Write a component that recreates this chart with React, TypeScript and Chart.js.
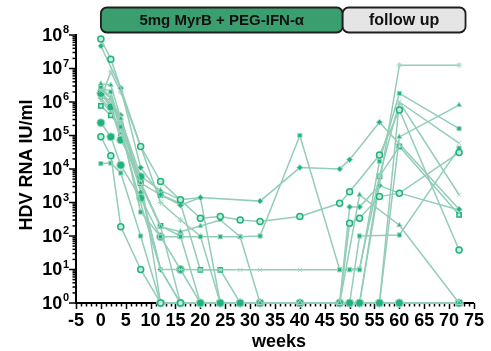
import { useEffect, useRef } from 'react';
import { Chart, registerables } from 'chart.js';

Chart.register(...registerables);

// ---- data ----
const WEEKS = [0, 2, 4, 8, 12, 16, 20, 24, 28, 32, 40, 48, 50, 52, 56, 60, 72];

const P01 = [7.6e7, 1.9e7, null, 4.7e4, 4200, 1200, 340, 380, 300, 270, 380, 950, 2100, null, 2.6e4, 5.8e5, 38];
const P02 = [4.7e7, null, 2.6e6, 1.1e4, 1700, 830, 1400, null, null, 1100, 1.1e4, 1.0e4, 1.9e4, null, 2.5e5, null, 630];
const P03 = [3.5e6, 3.2e6, 3.2e5, 3800, 190, 135, 200, 300, 95, 1, 1, 1, null, 1700, null, 210, 1];
const P04 = [2.8e6, 2.0e6, 1.8e5, 520, 95, 95, 95, 95, 95, 100, 1.0e5, 9.8, 9.8, 9.8, 1.7e4, 1.8e6, 1.6e5];
const P05 = [2.2e6, 1.3e6, 1.45e5, 950, 10, 10, 9.8, 9.8, 9.8, 9.8, 9.8, 9.8, 9.8, 11, 6200, 1.0e6, 1700];
const P06 = [2.4e5, 9.1e4, 1.3e4, 1350, 95, 10, 1, 1, 1, 1, 1, 1, 1, 1, 1, 1, 1];
const P07 = [9.1e4, 2.5e4, 190, 10, 1, 1, 1, 1, 1, 1, 1, 1, 240, 340, 1500, 1900, 3.1e4];
const P08 = [1.45e4, 1.5e4, 7600, 100, 1, 1, 1, 1, 1, 1, 1, 1, 1, 100, null, 107, 4.2e4];
const P09 = [1.8e6, 7.1e5, 7.4e4, 5900, 1, 1, 1, 1, 1, 1, 1, 1, 1, 1, 1, 1, 1];
const P10 = [7.6e5, 4.0e5, 1.8e5, 3800, 1700, 950, 9.8, 9.8, 1, 1, 1, 1, 1, 1, 1, 1, 1];
const P11 = [1.3e6, 7.9e6, 2.0e6, 4.7e4, 1000, 300, 100, 1, 1, 1, 1, 1, 1, 1, null, 1.26e7, 1.26e7];
const P12 = [3.0e6, 1.3e6, 3.2e5, 6000, 2300, 1200, 1400, 1, 1, 1, 1, 1, 1, 1, 1, 9.1e4, 8.1e5];
const P13 = [1.8e6, 1.0e6, 2.5e5, 3500, 190, 1, 1, 1, 1, 1, 1, 1, 1, 1, 1, 1, 1];
const P14 = [1.3e6, 6.0e5, 4.0e5, 2000, 10, 1, 1, 1, 1, 1, 1, 1, 740, 740, 3200, 1900, 600];
const P15 = [2.0e6, 8.0e5, 1.0e5, 4000, 200, 100, 1, 1, 1, 1, 1, 1, 1, 1, 6000, 4.7e4, 430];
const P16 = [1.1e6, 5.0e5, 1.3e5, 2500, 10, 1, 1, 1, 1, 1, 1, 1, 1, 1, 1, 1.0e6, 5.9e4];

const PATIENTS = [P01, P02, P03, P04, P05, P06, P07, P08, P09, P10, P11, P12, P13, P14, P15, P16];
const MARKERS = ['circle', 'rectRot', 'triangle', 'rect', 'crossRot', 'circle', 'circle', 'rect',
  'circle', 'rect', 'star', 'triangle', 'cross', 'rectRot', 'rect', 'crossRot'];
const OPEN_MARKER = [true, false, false, false, false, false, true, false, false, true, false, false, false, false, true, false];
const BIG_MARKER = [false, false, false, false, false, true, false, false, true, false, false, false, false, false, false, false];

const Y_DECADES = [0, 1, 2, 3, 4, 5, 6, 7, 8];
const PHASES = [
  { label: '5mg MyrB + PEG-IFN-α', from: 0, to: 48.6, fill: '#3b9e6f', font: 'bold 15px "Liberation Sans", Arial, sans-serif' },
  { label: 'follow up', from: 48.6, to: 73.3, fill: '#e5e5e5', font: 'bold 16px "Liberation Sans", Arial, sans-serif' },
];
const Y_TITLE = 'HDV RNA IU/ml';
const X_TITLE = 'weeks';

const FONT = '"Liberation Sans", Arial, sans-serif';
const LINE_COLOR = '#93cdb8';
const MARK_COLOR = '#1fb47a';
const MARK_EDGE = '#a6d7c5';

const customPlugin = {
  id: 'customAxes',
  beforeDatasetsDraw(chart: any) {
    const { ctx, scales, chartArea } = chart;
    const x = scales.x;
    const y = scales.y;
    ctx.save();
    ctx.strokeStyle = '#000';
    ctx.lineWidth = 1.5;
    for (let w = -5; w <= 75; w += 1) {
      const px = Math.round(x.getPixelForValue(w)) + 0.5;
      const len = w % 5 === 0 ? 6 : 3.5;
      ctx.beginPath();
      ctx.moveTo(px, chartArea.bottom);
      ctx.lineTo(px, chartArea.bottom + len);
      ctx.stroke();
    }
    for (const d of Y_DECADES) {
      const py = y.getPixelForValue(Math.pow(10, d));
      ctx.beginPath();
      ctx.moveTo(chartArea.left, py);
      ctx.lineTo(chartArea.left - 7, py);
      ctx.stroke();
      if (d < 8) {
        for (let m = 2; m <= 9; m++) {
          const pm = y.getPixelForValue(m * Math.pow(10, d));
          ctx.beginPath();
          ctx.moveTo(chartArea.left, pm);
          ctx.lineTo(chartArea.left - 3.5, pm);
          ctx.stroke();
        }
      }
    }
    ctx.fillStyle = '#000';
    ctx.textBaseline = 'middle';
    for (const d of Y_DECADES) {
      const py = y.getPixelForValue(Math.pow(10, d));
      ctx.font = `bold 11px ${FONT}`;
      const sup = String(d);
      const supW = ctx.measureText(sup).width;
      const right = chartArea.left - 7;
      ctx.textAlign = 'right';
      ctx.fillText(sup, right, py - 5);
      ctx.font = `bold 18px ${FONT}`;
      ctx.fillText('10', right - supW - 0.5, py + 1);
    }
    ctx.save();
    ctx.translate(27, (chartArea.top + chartArea.bottom) / 2 - 4);
    ctx.rotate(-Math.PI / 2);
    ctx.textAlign = 'center';
    ctx.textBaseline = 'middle';
    ctx.font = `bold 18px ${FONT}`;
    ctx.fillText(Y_TITLE, 0, 0);
    ctx.restore();
    ctx.textAlign = 'center';
    ctx.textBaseline = 'middle';
    ctx.font = `bold 18px ${FONT}`;
    ctx.fillText(X_TITLE, (chartArea.left + chartArea.right) / 2 + 4, 342);
    ctx.restore();
  },
  afterDraw(chart: any) {
    const { ctx, scales } = chart;
    const x = scales.x;
    ctx.save();
    for (const ph of PHASES) {
      const x0 = x.getPixelForValue(ph.from);
      const x1 = x.getPixelForValue(ph.to);
      const top = 7.5;
      const h = 25;
      ctx.beginPath();
      ctx.roundRect(x0, top, x1 - x0, h, 6);
      ctx.fillStyle = ph.fill;
      ctx.fill();
      ctx.lineWidth = 1.8;
      ctx.strokeStyle = '#1e1e1e';
      ctx.stroke();
      ctx.fillStyle = '#111';
      ctx.font = ph.font;
      ctx.textAlign = 'center';
      ctx.textBaseline = 'middle';
      ctx.fillText(ph.label, (x0 + x1) / 2, top + h / 2 + 1);
    }
    ctx.restore();
  },
};

export default function App() {
  const ref = useRef<HTMLCanvasElement | null>(null);
  useEffect(() => {
    if (!ref.current) return;
    const datasets = PATIENTS.map((arr, i) => {
      const data: { x: number; y: number }[] = [];
      arr.forEach((v, j) => {
        if (v !== null) data.push({ x: WEEKS[j], y: v as number });
      });
      const open = OPEN_MARKER[i];
      return {
        label: 'P' + (i + 1),
        data,
        borderColor: LINE_COLOR,
        borderWidth: 1.5,
        pointStyle: MARKERS[i] as any,
        pointRadius: BIG_MARKER[i] ? 4 : 3,
        pointBackgroundColor: open ? '#c9eadd' : MARK_COLOR,
        pointBorderColor: open ? MARK_COLOR : MARK_EDGE,
        pointBorderWidth: open ? 1.5 : 1,
        tension: 0,
        spanGaps: true,
        clip: false as any,
        fill: false,
      };
    });
    const chart = new Chart(ref.current, {
      type: 'line',
      data: { datasets },
      options: {
        animation: false,
        responsive: false,
        layout: { padding: { top: 35, right: 9, left: 0, bottom: 0 } },
        plugins: { legend: { display: false }, tooltip: { enabled: false } },
        scales: {
          x: {
            type: 'linear',
            min: -5,
            max: 75,
            ticks: {
              stepSize: 5,
              autoSkip: false,
              maxRotation: 0,
              color: '#000',
              padding: 7,
              font: { family: FONT, size: 18, weight: 'bold' },
            },
            grid: { display: false, drawTicks: false },
            border: { display: true, color: '#000', width: 2 },
            afterFit: (s: any) => { s.height = 48; },
          },
          y: {
            type: 'logarithmic',
            min: 1,
            max: 1e8,
            ticks: { display: false },
            grid: { display: false, drawTicks: false },
            border: { display: true, color: '#000', width: 2 },
            afterFit: (s: any) => { s.width = 76; },
          },
        },
      },
      plugins: [customPlugin],
    });
    return () => chart.destroy();
  }, []);
  return (
    <div style={{ position: 'absolute', left: 0, top: 0, width: 491, height: 351 }}>
      <canvas ref={ref} width={491} height={351} />
    </div>
  );
}
